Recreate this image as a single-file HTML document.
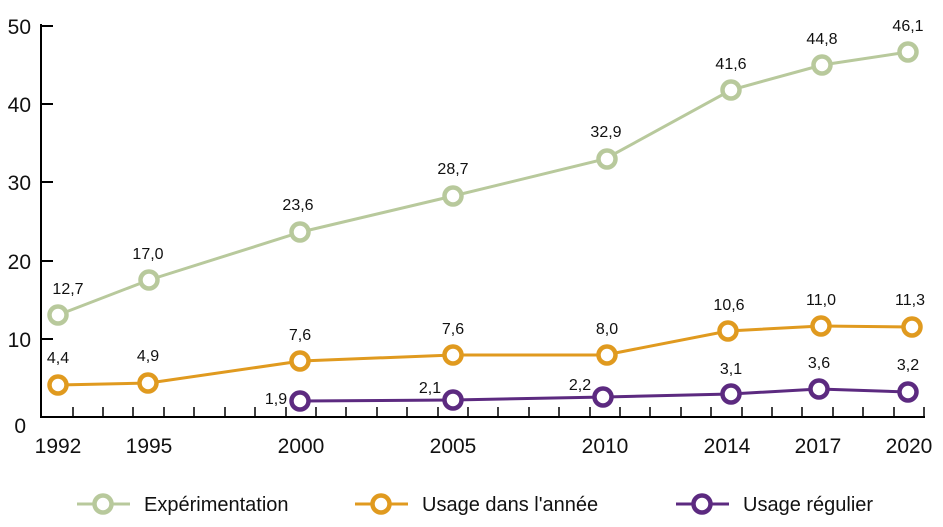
<!DOCTYPE html>
<html><head><meta charset="utf-8"><style>
body{margin:0;background:#fff;}
svg{display:block;font-family:"Liberation Sans",sans-serif;}
</style></head><body>
<svg width="943" height="527" viewBox="0 0 943 527">
<g stroke="#000" stroke-width="2" fill="none">
<line x1="41" y1="24" x2="41" y2="417"/>
<line x1="40" y1="417" x2="925" y2="417"/>
<line x1="41" y1="26" x2="53" y2="26"/>
<line x1="41" y1="104" x2="53" y2="104"/>
<line x1="41" y1="182" x2="53" y2="182"/>
<line x1="41" y1="261" x2="53" y2="261"/>
<line x1="41" y1="339" x2="53" y2="339"/>
</g>
<g font-size="21" fill="#111" text-anchor="end">
<text x="31" y="34">50</text><text x="31" y="112">40</text><text x="31" y="190">30</text>
<text x="31" y="269">20</text><text x="31" y="347">10</text><text x="26" y="433">0</text>
</g>
<g font-size="21" fill="#111" text-anchor="middle">
<text x="58" y="453">1992</text><text x="149" y="453">1995</text><text x="301" y="453">2000</text>
<text x="453" y="453">2005</text><text x="605" y="453">2010</text><text x="727" y="453">2014</text>
<text x="818" y="453">2017</text><text x="909" y="453">2020</text>
</g>
<g fill="none" stroke-width="3">
<polyline stroke="#b8c99c" points="58,315 149,280 301,232 453,196 605,159 731,90 822,65 908,52"/>
<polyline stroke="#e09a1f" points="58,385 149,383 301,361 453,355 605,355 728,331 821,326 912,327"/>
<polyline stroke="#5c2a80" points="301,401 453,400 605,397 731,394 819,389 908,392"/>
</g>
<g fill="#fff" stroke-width="4.5">
<g stroke="#b8c99c">
<circle cx="58" cy="315" r="8.5"/><circle cx="149" cy="280" r="8.5"/><circle cx="300" cy="232" r="8.5"/><circle cx="453" cy="196" r="8.5"/><circle cx="607" cy="159" r="8.5"/><circle cx="731" cy="90" r="8.5"/><circle cx="822" cy="65" r="8.5"/><circle cx="908" cy="52" r="8.5"/>
</g>
<g stroke="#e09a1f">
<circle cx="58" cy="385" r="8.5"/><circle cx="148" cy="383" r="8.5"/><circle cx="300" cy="361" r="8.5"/><circle cx="453" cy="355" r="8.5"/><circle cx="607" cy="355" r="8.5"/><circle cx="728" cy="331" r="8.5"/><circle cx="821" cy="326" r="8.5"/><circle cx="912" cy="327" r="8.5"/>
</g>
<g stroke="#5c2a80">
<circle cx="300" cy="401" r="8.5"/><circle cx="453" cy="400" r="8.5"/><circle cx="603" cy="397" r="8.5"/><circle cx="731" cy="394" r="8.5"/><circle cx="819" cy="389" r="8.5"/><circle cx="908" cy="392" r="8.5"/>
</g>
</g>
<g font-size="16" fill="#111" text-anchor="middle">
<text x="68" y="294">12,7</text><text x="148" y="259">17,0</text><text x="298" y="210">23,6</text><text x="453" y="174">28,7</text><text x="606" y="137">32,9</text><text x="731" y="69">41,6</text><text x="822" y="44">44,8</text><text x="908" y="31">46,1</text>
<text x="58" y="363">4,4</text><text x="148" y="361">4,9</text><text x="300" y="340">7,6</text><text x="453" y="334">7,6</text><text x="607" y="334">8,0</text><text x="729" y="310">10,6</text><text x="821" y="305">11,0</text><text x="910" y="305">11,3</text>
<text x="276" y="404">1,9</text><text x="430" y="393">2,1</text><text x="580" y="390">2,2</text><text x="731" y="374">3,1</text><text x="819" y="368">3,6</text><text x="908" y="370">3,2</text>
</g>
<g stroke-width="3" fill="#fff">
<line x1="77" y1="504" x2="130" y2="504" stroke="#b8c99c"/><circle cx="103" cy="504" r="8.5" stroke="#b8c99c" stroke-width="4.5"/>
<line x1="355" y1="504" x2="408" y2="504" stroke="#e09a1f"/><circle cx="381" cy="504" r="8.5" stroke="#e09a1f" stroke-width="4.5"/>
<line x1="676" y1="504" x2="729" y2="504" stroke="#5c2a80"/><circle cx="702" cy="504" r="8.5" stroke="#5c2a80" stroke-width="4.5"/>
</g>
<g font-size="20" fill="#111">
<text x="144" y="511">Expérimentation</text>
<text x="422" y="511">Usage dans l'année</text>
<text x="743" y="511">Usage régulier</text>
</g>
<path stroke="#000" stroke-width="1.5" d="M73,417v-10M103,417v-10M133,417v-10M164,417v-10M194,417v-10M225,417v-10M255,417v-10M286,417v-10M316,417v-10M346,417v-10M377,417v-10M407,417v-10M438,417v-10M468,417v-10M498,417v-10M529,417v-10M559,417v-10M590,417v-10M620,417v-10M650,417v-10M681,417v-10M711,417v-10M742,417v-10M772,417v-10M802,417v-10M833,417v-10M863,417v-10M894,417v-10M924,417v-10"/>
</svg>
</body></html>
